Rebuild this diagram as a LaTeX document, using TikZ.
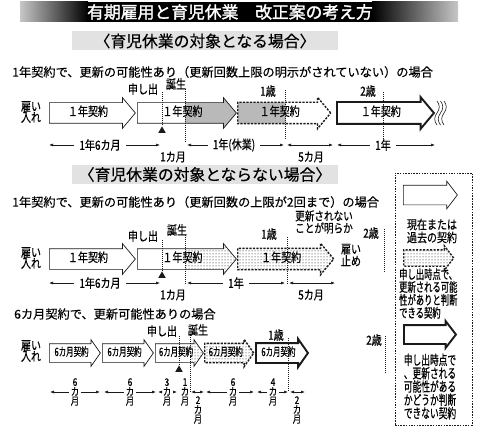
\documentclass[tikz,border=0pt]{standalone}
\usepackage{fontspec}
\setmainfont[FakeBold=0.4]{Noto Sans CJK JP}
\newfontfamily\jpnarrow[FakeStretch=0.8, FakeBold=0.5]{Noto Sans CJK JP}
\newfontfamily\jpcond[FakeStretch=0.65, FakeBold=0.5]{Noto Sans CJK JP}
\newfontfamily\jpheavy[FakeBold=1.6]{Noto Sans CJK JP}
\usepackage{tikz}
\usetikzlibrary{arrows.meta,positioning,shapes.arrows,shapes.geometric,patterns,calc}
\definecolor{bandgray}{HTML}{E2E2E2}
\definecolor{leavegray}{HTML}{B9B9B9}
\definecolor{ink}{HTML}{1A1A1A}
\tikzset{
  contract/.style={
    single arrow, draw=ink, fill=white, line width=0.7pt,
    minimum width=30pt, single arrow head extend=5pt,
    single arrow tip angle=100, inner xsep=0pt, inner ysep=4pt,
    text height=9pt, text depth=3pt, anchor=tail,
    font=\jpnarrow\fontsize{12.5}{12}\selectfont
  },
  halfyear/.style={
    contract, minimum width=26pt, single arrow head extend=4pt,
    inner ysep=3.5pt, text height=8.5pt, text depth=2.5pt,
    single arrow tip angle=110, font=\jpcond\fontsize{11.5}{12}\selectfont
  },
  keyarrow/.style={
    contract, text height=0pt, text depth=0pt, inner ysep=#1,
    minimum width=0pt, single arrow head extend=4pt, single arrow tip angle=105
  },
  renewborder/.style={dash pattern=on 2.2pt off 1.3pt, line width=1.4pt},
  unknownborder/.style={line width=1.9pt},
  grayupto/.style={path picture={\fill[leavegray]
    (path picture bounding box.south west) rectangle
    ([xshift=#1]path picture bounding box.north west);}},
  grayfrom/.style={path picture={\fill[leavegray]
    ([xshift=#1]path picture bounding box.south west) rectangle
    (path picture bounding box.north east);}},
  dotsfrom/.style={path picture={\fill[pattern=dots]
    ([xshift=#1]path picture bounding box.south west) rectangle
    (path picture bounding box.north east);}},
  marker/.style={font=\jpnarrow\fontsize{12.5}{12}\selectfont, inner sep=0pt},
  markline/.style={draw=ink, line width=0.5pt, dash pattern=on 1pt off 1pt},
  marktri/.style={regular polygon, regular polygon sides=3, fill=ink,
    inner sep=0pt, minimum size=8.5pt, anchor=corner 1},
  dimarrow/.style={-{Latex[length=4pt,width=3pt]}, line width=0.6pt, draw=ink},
  dimboth/.style={{Latex[length=4pt,width=3pt]}-{Latex[length=4pt,width=3pt]},
    line width=0.6pt, draw=ink},
  dimlabel/.style={font=\jpnarrow\fontsize{12.5}{12}\selectfont,
    inner xsep=5pt, inner ysep=0pt},
  stacklabel/.style={font=\jpnarrow\fontsize{10.5}{9.5}\selectfont,
    align=center, inner xsep=1.5pt, inner ysep=0pt},
  casetext/.style={font=\fontsize{12.2}{12}\selectfont, anchor=west, inner sep=0pt},
  subhead/.style={fill=bandgray, minimum width=266pt, minimum height=19pt,
    inner sep=0pt, font=\fontsize{15.8}{16}\selectfont},
  twoline/.style={font=\jpnarrow\fontsize{12.5}{11}\selectfont,
    align=center, inner sep=0pt},
  keytext/.style={font=\jpcond\fontsize{12.8}{11.7}\selectfont, inner sep=0pt},
}
\begin{document}
\begin{tikzpicture}[x=1pt, y=-1pt]
  \useasboundingbox (0,0) rectangle (480,428);

  % title band
  \shade[left color=black!22, right color=black] (20,2) rectangle (88,22);
  \fill[black] (87.5,2) rectangle (372.5,22);
  \shade[left color=black, right color=black!22] (372,2) rectangle (458,22);
  \node[font=\jpheavy\fontsize{16.8}{17}\selectfont, text=white, inner sep=0pt]
    (title) at (230,12) {有期雇用と育児休業　改正案の考え方};

  % case A
  \node[subhead] (subA) at (205,41) {〈育児休業の対象となる場合〉};
  \node[casetext] (caseA) at (12,72)
    {1年契約で、更新の可能性あり（更新回数上限の明示がされていない）の場合};

  \node[contract, minimum height=86pt] (a1) at (49,113) {１年契約};
  \node[contract, minimum height=99pt, grayfrom=48pt] (a2) at (137,113) {１年契約};
  \node[contract, renewborder, minimum height=93pt, grayupto=48pt]
    (a3) at (237,113) {１年契約};
  \node[contract, unknownborder, minimum height=97pt] (a4) at (336,113) {１年契約};
  \foreach \x in {437,440.5,444}
    \draw[ink, line width=0.6pt] (\x,101) .. controls (\x+3,105) and (\x+3,109) .. (\x,113)
      .. controls (\x-3,117) and (\x-3,121) .. (\x,125);

  \node[twoline] (hireA) at (31,112) {雇い\\入れ};
  \node[marker] (reqA) at (143,89) {申し出};
  \node[marker] (birthA) at (176,84) {誕生};
  \node[marker] (ageA1) at (268,91) {1歳};
  \node[marker] (ageA2) at (368,91) {2歳};
  \node[marktri] (triA) at (162,126) {};
  \draw[markline] (162,92) -- (triA.corner 1);
  \draw[markline] (185,89) -- (185,142);
  \draw[markline] (285,90) -- (285,140);
  \draw[markline] (383,92) -- (383,140);

  \node[dimlabel] (dA1) at (100,145) {1年6カ月};
  \draw[dimarrow] (dA1.west) -- (49,145);
  \draw[dimarrow] (dA1.east) -- (160,145);
  \node[dimlabel] (dA2) at (173,157) {1カ月};
  \node[dimlabel] (dA3) at (234,145) {1年(休業)};
  \draw[dimarrow] (dA3.west) -- (187,145);
  \draw[dimarrow] (dA3.east) -- (284,145);
  \draw[dimboth] (287,145) -- (333,145);
  \node[dimlabel] (dA4) at (311,157) {5カ月};
  \node[dimlabel] (dA5) at (383,145) {1年};
  \draw[dimarrow] (dA5.west) -- (337,145);
  \draw[dimarrow] (dA5.east) -- (435,145);

  % case B
  \node[subhead] (subB) at (205,174.5) {〈育児休業の対象とならない場合〉};
  \node[casetext] (caseB) at (12,202)
    {1年契約で、更新の可能性あり（更新回数の上限が2回まで）の場合};

  \node[contract, minimum height=86pt] (b1) at (49,259) {１年契約};
  \node[contract, minimum height=99pt, dotsfrom=48pt] (b2) at (137,259) {１年契約};
  \node[contract, renewborder, pattern=dots, minimum height=96pt]
    (b3) at (237,259) {１年契約};

  \node[twoline] (hireB) at (31,258) {雇い\\入れ};
  \node[marker] (reqB) at (143,236) {申し出};
  \node[marker] (birthB) at (177,230) {誕生};
  \node[marker] (ageB1) at (269,234) {1歳};
  \node[marker] (ageB2) at (371,233) {2歳};
  \node[twoline, font=\jpnarrow\fontsize{12}{11}\selectfont] (noteB) at (324,222)
    {更新されない\\ことが明らか};
  \node[twoline, font=\jpnarrow\fontsize{12.5}{12}\selectfont] (stopB) at (351,255)
    {雇い\\止め};
  \node[marktri] (triB) at (162,271) {};
  \draw[markline] (162,240) -- (triB.corner 1);
  \draw[markline] (185,235) -- (185,285);
  \draw[markline] (287,237) -- (287,285);
  \draw[markline] (384,229) -- (384,272);

  \node[dimlabel] (dB1) at (100,283) {1年6カ月};
  \draw[dimarrow] (dB1.west) -- (49,283);
  \draw[dimarrow] (dB1.east) -- (160,283);
  \node[dimlabel] (dB2) at (173,295) {1カ月};
  \node[dimlabel] (dB3) at (236,283) {1年};
  \draw[dimarrow] (dB3.west) -- (187,283);
  \draw[dimarrow] (dB3.east) -- (285,283);
  \draw[dimboth] (289,283) -- (335,283);
  \node[dimlabel] (dB4) at (311,295) {5カ月};

  % case C
  \node[casetext] (caseC) at (14,314) {6カ月契約で、更新可能性ありの場合};

  \node[halfyear, minimum height=51pt] (c1) at (49,353) {6カ月契約};
  \node[halfyear, minimum height=51pt] (c2) at (102,353) {6カ月契約};
  \node[halfyear, minimum height=48pt, dotsfrom=35pt] (c3) at (155,353) {6カ月契約};
  \node[halfyear, renewborder, pattern=dots, minimum height=49pt]
    (c4) at (204,353) {6カ月契約};
  \node[halfyear, unknownborder, minimum height=52pt] (c5) at (255,353) {6カ月契約};

  \node[twoline] (hireC) at (31,351) {雇い\\入れ};
  \node[marker] (reqC) at (162,331) {申し出};
  \node[marker] (birthC) at (198,330) {誕生};
  \node[marker] (ageC1) at (276,335) {1歳};
  \node[marker] (ageC2) at (374,340) {2歳};
  \node[marktri] (triC) at (179,365) {};
  \draw[markline] (179,336) -- (triC.corner 1);
  \draw[markline] (190,335) -- (190,392);
  \draw[markline] (288,338) -- (288,392);
  \draw[markline] (385,336) -- (385,373);

  \node[stacklabel] (sC1) at (75,392) {6\\カ\\月};
  \draw[dimarrow] (sC1.west) -- (50,392);
  \draw[dimarrow] (sC1.east) -- (100,392);
  \node[stacklabel] (sC2) at (130,392) {6\\カ\\月};
  \draw[dimarrow] (sC2.west) -- (104,392);
  \draw[dimarrow] (sC2.east) -- (156,392);
  \node[stacklabel] (sC3) at (167,392) {3\\カ\\月};
  \draw[dimarrow] (sC3.west) -- (158,392);
  \draw[dimarrow] (sC3.east) -- (177,392);
  \node[stacklabel] (sC4) at (185,392) {1\\カ\\月};
  \draw[dimboth] (191,392) -- (204,392);
  \node[stacklabel] (sC5) at (198,410) {2\\カ\\月};
  \node[stacklabel] (sC6) at (233,392) {6\\カ\\月};
  \draw[dimarrow] (sC6.west) -- (206,392);
  \draw[dimarrow] (sC6.east) -- (254,392);
  \node[stacklabel] (sC7) at (273,392) {4\\カ\\月};
  \draw[dimarrow] (sC7.west) -- (257,392);
  \draw[dimarrow] (sC7.east) -- (288,392);
  \draw[dimboth] (290,392) -- (305,392);
  \node[stacklabel] (sC8) at (297,410) {2\\カ\\月};

  % legend
  \node[draw=ink, line width=0.6pt, dash pattern=on 1.5pt off 1.2pt,
    minimum width=77pt, minimum height=252pt, inner sep=0pt] (legend) at (433.5,299) {};
  \node[keyarrow=9.5pt, minimum height=54pt] (keyA) at (403,195) {};
  \node[twoline, font=\jpnarrow\fontsize{12.5}{13}\selectfont] (keyAtext)
    at (432,231) {現在または\\過去の契約};
  \node[keyarrow=7.5pt, renewborder, pattern=dots, minimum height=50pt]
    (keyB) at (403,258) {};
  \node[keytext, align=left, anchor=west] (keyBtext) at (399,293.5)
    {申し出時点で、\\更新される可能\\性がありと判断\\できる契約};
  \node[keyarrow=8.5pt, unknownborder, minimum height=52pt] (keyC) at (403,334.5) {};
  \node[keytext, align=center, font=\jpcond\fontsize{13.4}{13.3}\selectfont]
    (keyCtext) at (430,386.5)
    {申し出時点で\\、更新される\\可能性がある\\かどうか判断\\できない契約};
\end{tikzpicture}
\end{document}
